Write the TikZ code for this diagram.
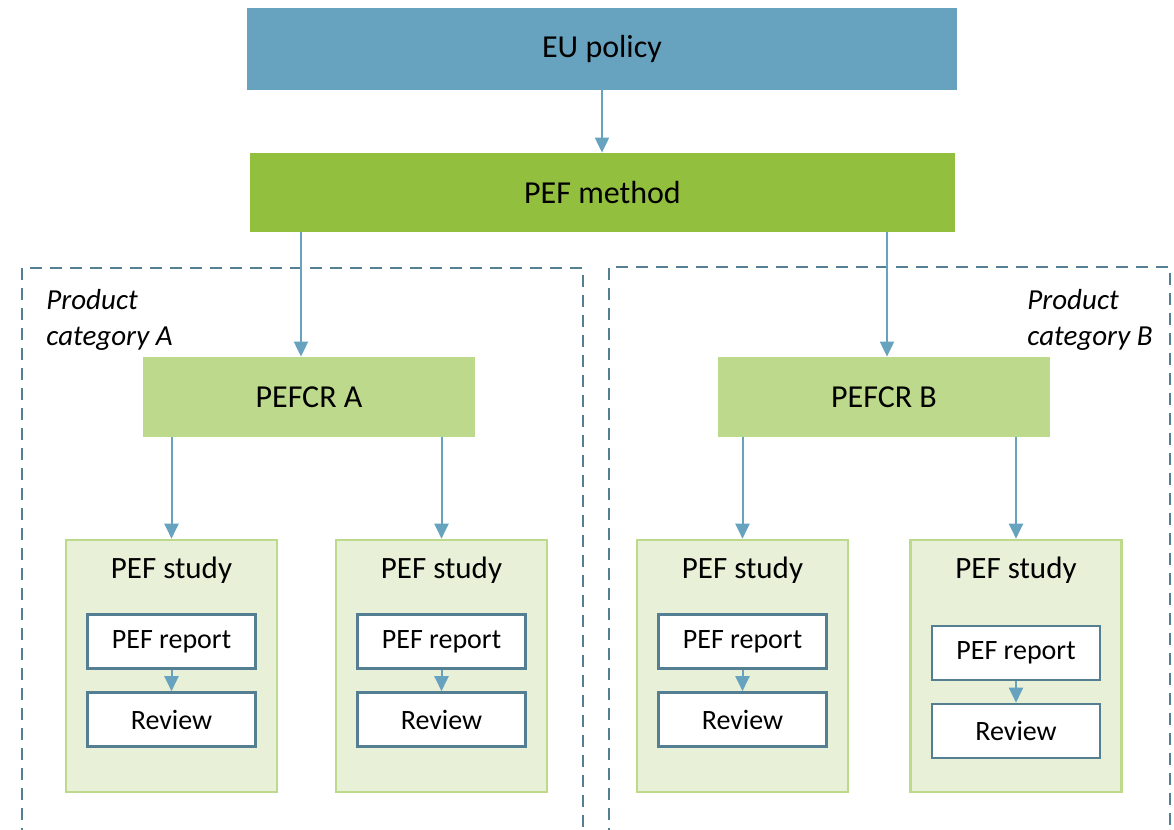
\documentclass[tikz,border=0pt]{standalone}
\usepackage{fontspec}
\setmainfont{Carlito}
\usetikzlibrary{arrows.meta,positioning}
\definecolor{policy}{RGB}{103,163,191}
\definecolor{method}{RGB}{146,192,62}
\definecolor{rules}{RGB}{189,217,140}
\definecolor{studyfill}{RGB}{232,241,216}
\definecolor{frame}{RGB}{84,126,146}
\definecolor{linkblue}{RGB}{103,163,191}
\tikzset{
  block/.style={inner sep=0pt,font=\fontsize{16}{19}\selectfont},
  studybox/.style={draw=rules,line width=1.3pt,fill=studyfill,inner sep=0pt,
    minimum width=105.5pt,minimum height=126pt},
  studytitle/.style={inner sep=0pt,font=\fontsize{15.5}{18}\selectfont},
  docbox/.style={draw=frame,line width=1.3pt,fill=white,inner sep=0pt,
    minimum width=84pt,minimum height=27pt,font=\fontsize{14}{16}\selectfont},
  link/.style={linkblue,line width=1pt,-{Triangle[length=7.5pt,width=7pt]}},
  category/.style={frame,line width=1.3pt,dash pattern=on 6pt off 4pt},
  catlabel/.style={inner sep=0pt,font=\fontsize{14.5}{18}\selectfont\itshape},
}
\begin{document}
\begin{tikzpicture}[x=0.5pt,y=-0.5pt]
  \useasboundingbox (0,0) rectangle (1174,830);
  % product categories
  \draw[category] (22,840) -- (22,268) -- (583,268) -- (583,840);
  \draw[category] (609,840) -- (609,267) -- (1170,267) -- (1170,840);
  \node[catlabel,anchor=west,align=left] (catA) at (46,320) {Product\\category A};
  \node[catlabel,anchor=west,align=left] (catB) at (1027,320) {Product\\category B};
  % main blocks
  \node[block,fill=policy,minimum width=355pt,minimum height=41pt] (eu) at (602,49) {EU policy};
  \node[block,fill=method,minimum width=352.5pt,minimum height=39.5pt] (pef) at (602.5,192.5) {PEF method};
  \node[block,fill=rules,minimum width=166pt,minimum height=40pt] (crA) at (309,397) {PEFCR A};
  \node[block,fill=rules,minimum width=166pt,minimum height=40pt] (crB) at (884,397) {PEFCR B};
  \coordinate (inA) at (301,355);
  \coordinate (inB) at (887,355);
  \draw[link] (eu.south) -- (eu.south |- pef.north);
  \draw[link] (pef.south -| inA) -- (crA.north -| inA);
  \draw[link] (pef.south -| inB) -- (crB.north -| inB);
  % studies
  \foreach \name/\x/\ry in {sA1/171.5/641.5,sA2/441.5/641.5,sB1/742.5/641.5,sB2/1016/653}{
    \node[studybox] (\name) at (\x,666) {};
    \node[studytitle] (\name-t) at (\x,570) {PEF study};
    \node[docbox] (\name-rep) at (\x,\ry) {PEF report};
    \node[docbox] (\name-rev) at (\x,\ry+78) {Review};
    \draw[link] (\name-rep) -- (\name-rev);
  }
  \draw[link] (crA.south -| sA1.north) -- (sA1.north);
  \draw[link] (crA.south -| sA2.north) -- (sA2.north);
  \draw[link] (crB.south -| sB1.north) -- (sB1.north);
  \draw[link] (crB.south -| sB2.north) -- (sB2.north);
\end{tikzpicture}
\end{document}
